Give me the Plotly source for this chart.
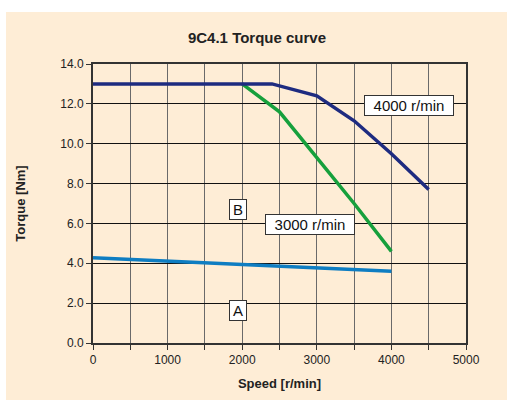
import plotly.graph_objects as go

speed_4000 = [0, 2000, 2400, 3000, 3500, 4000, 4500]
torque_4000 = [13.0, 13.0, 13.0, 12.4, 11.15, 9.5, 7.7]

speed_3000 = [2000, 2500, 3000, 3500, 4000]
torque_3000 = [13.0, 11.6, 9.3, 7.0, 4.6]

speed_a = [0, 1000, 2000, 3000, 4000]
torque_a = [4.28, 4.12, 3.96, 3.78, 3.6]

labels = ["4000 r/min", "3000 r/min", "B", "A"]
label_x = [4240, 2910, 1940, 1940]
label_y = [11.94, 5.93, 6.69, 1.64]
label_w = [86, 86, 14, 14]

bg = "#FEEDD6"
font_family = "Liberation Sans, Arial, sans-serif"

fig = go.Figure()
fig.add_trace(go.Scatter(x=speed_a, y=torque_a, mode="lines",
                         line=dict(color="#0E7DC2", width=3.5), showlegend=False))
fig.add_trace(go.Scatter(x=speed_3000, y=torque_3000, mode="lines",
                         line=dict(color="#16A03C", width=3.5), showlegend=False))
fig.add_trace(go.Scatter(x=speed_4000, y=torque_4000, mode="lines",
                         line=dict(color="#1E2B80", width=3.5), showlegend=False))

for t, x, y, w in zip(labels, label_x, label_y, label_w):
    fig.add_annotation(x=x, y=y, text=t, showarrow=False, width=w, height=17,
                       font=dict(family=font_family, size=15, color="#111"),
                       bgcolor="white", bordercolor="#333", borderwidth=1, borderpad=1)

fig.add_shape(type="rect", xref="paper", yref="paper",
              x0=-87/373, x1=1 + 41/373, y0=-57/279, y1=1 + 52/279,
              fillcolor=bg, line=dict(width=0), layer="below")

fig.update_layout(
    template="none",
    width=507, height=400,
    margin=dict(l=93, r=41, t=64, b=57, autoexpand=False),
    paper_bgcolor="white", plot_bgcolor=bg,
    font=dict(family=font_family, color="#222"),
    title=dict(text="<b>9C4.1 Torque curve</b>", x=257/507, xanchor="center",
               y=1 - 38/400, yanchor="middle", font=dict(size=15, color="#222")),
    xaxis=dict(range=[0, 5000], tickvals=[0, 1000, 2000, 3000, 4000, 5000],
               ticktext=["0", "1000", "2000", "3000", "4000", "5000"],
               automargin=False,
               showgrid=True, gridcolor="#6a6a6a", gridwidth=1,
               minor=dict(dtick=500, showgrid=True, gridcolor="#6a6a6a", ticks="outside",
                          ticklen=5, tickcolor="#333"),
               ticks="outside", ticklen=5, tickcolor="#333",
               showline=True, linecolor="#333", linewidth=2, mirror=True,
               zeroline=False, tickfont=dict(size=12),
               title=dict(text="<b>Speed [r/min]</b>", font=dict(size=13), standoff=12)),
    yaxis=dict(range=[0, 14], dtick=2, tickformat=".1f",
               automargin=False,
               showgrid=True, gridcolor="#111", gridwidth=1,
               ticks="outside", ticklen=5, tickcolor="#333",
               showline=True, linecolor="#333", linewidth=2, mirror=True,
               zeroline=False, tickfont=dict(size=12),
               title=dict(text="<b>Torque [Nm]</b>", font=dict(size=13), standoff=32)),
)

fig.write_html("out.html", config={"displayModeBar": False},
               post_script="document.body.style.margin='0px';document.body.style.overflow='hidden';")
